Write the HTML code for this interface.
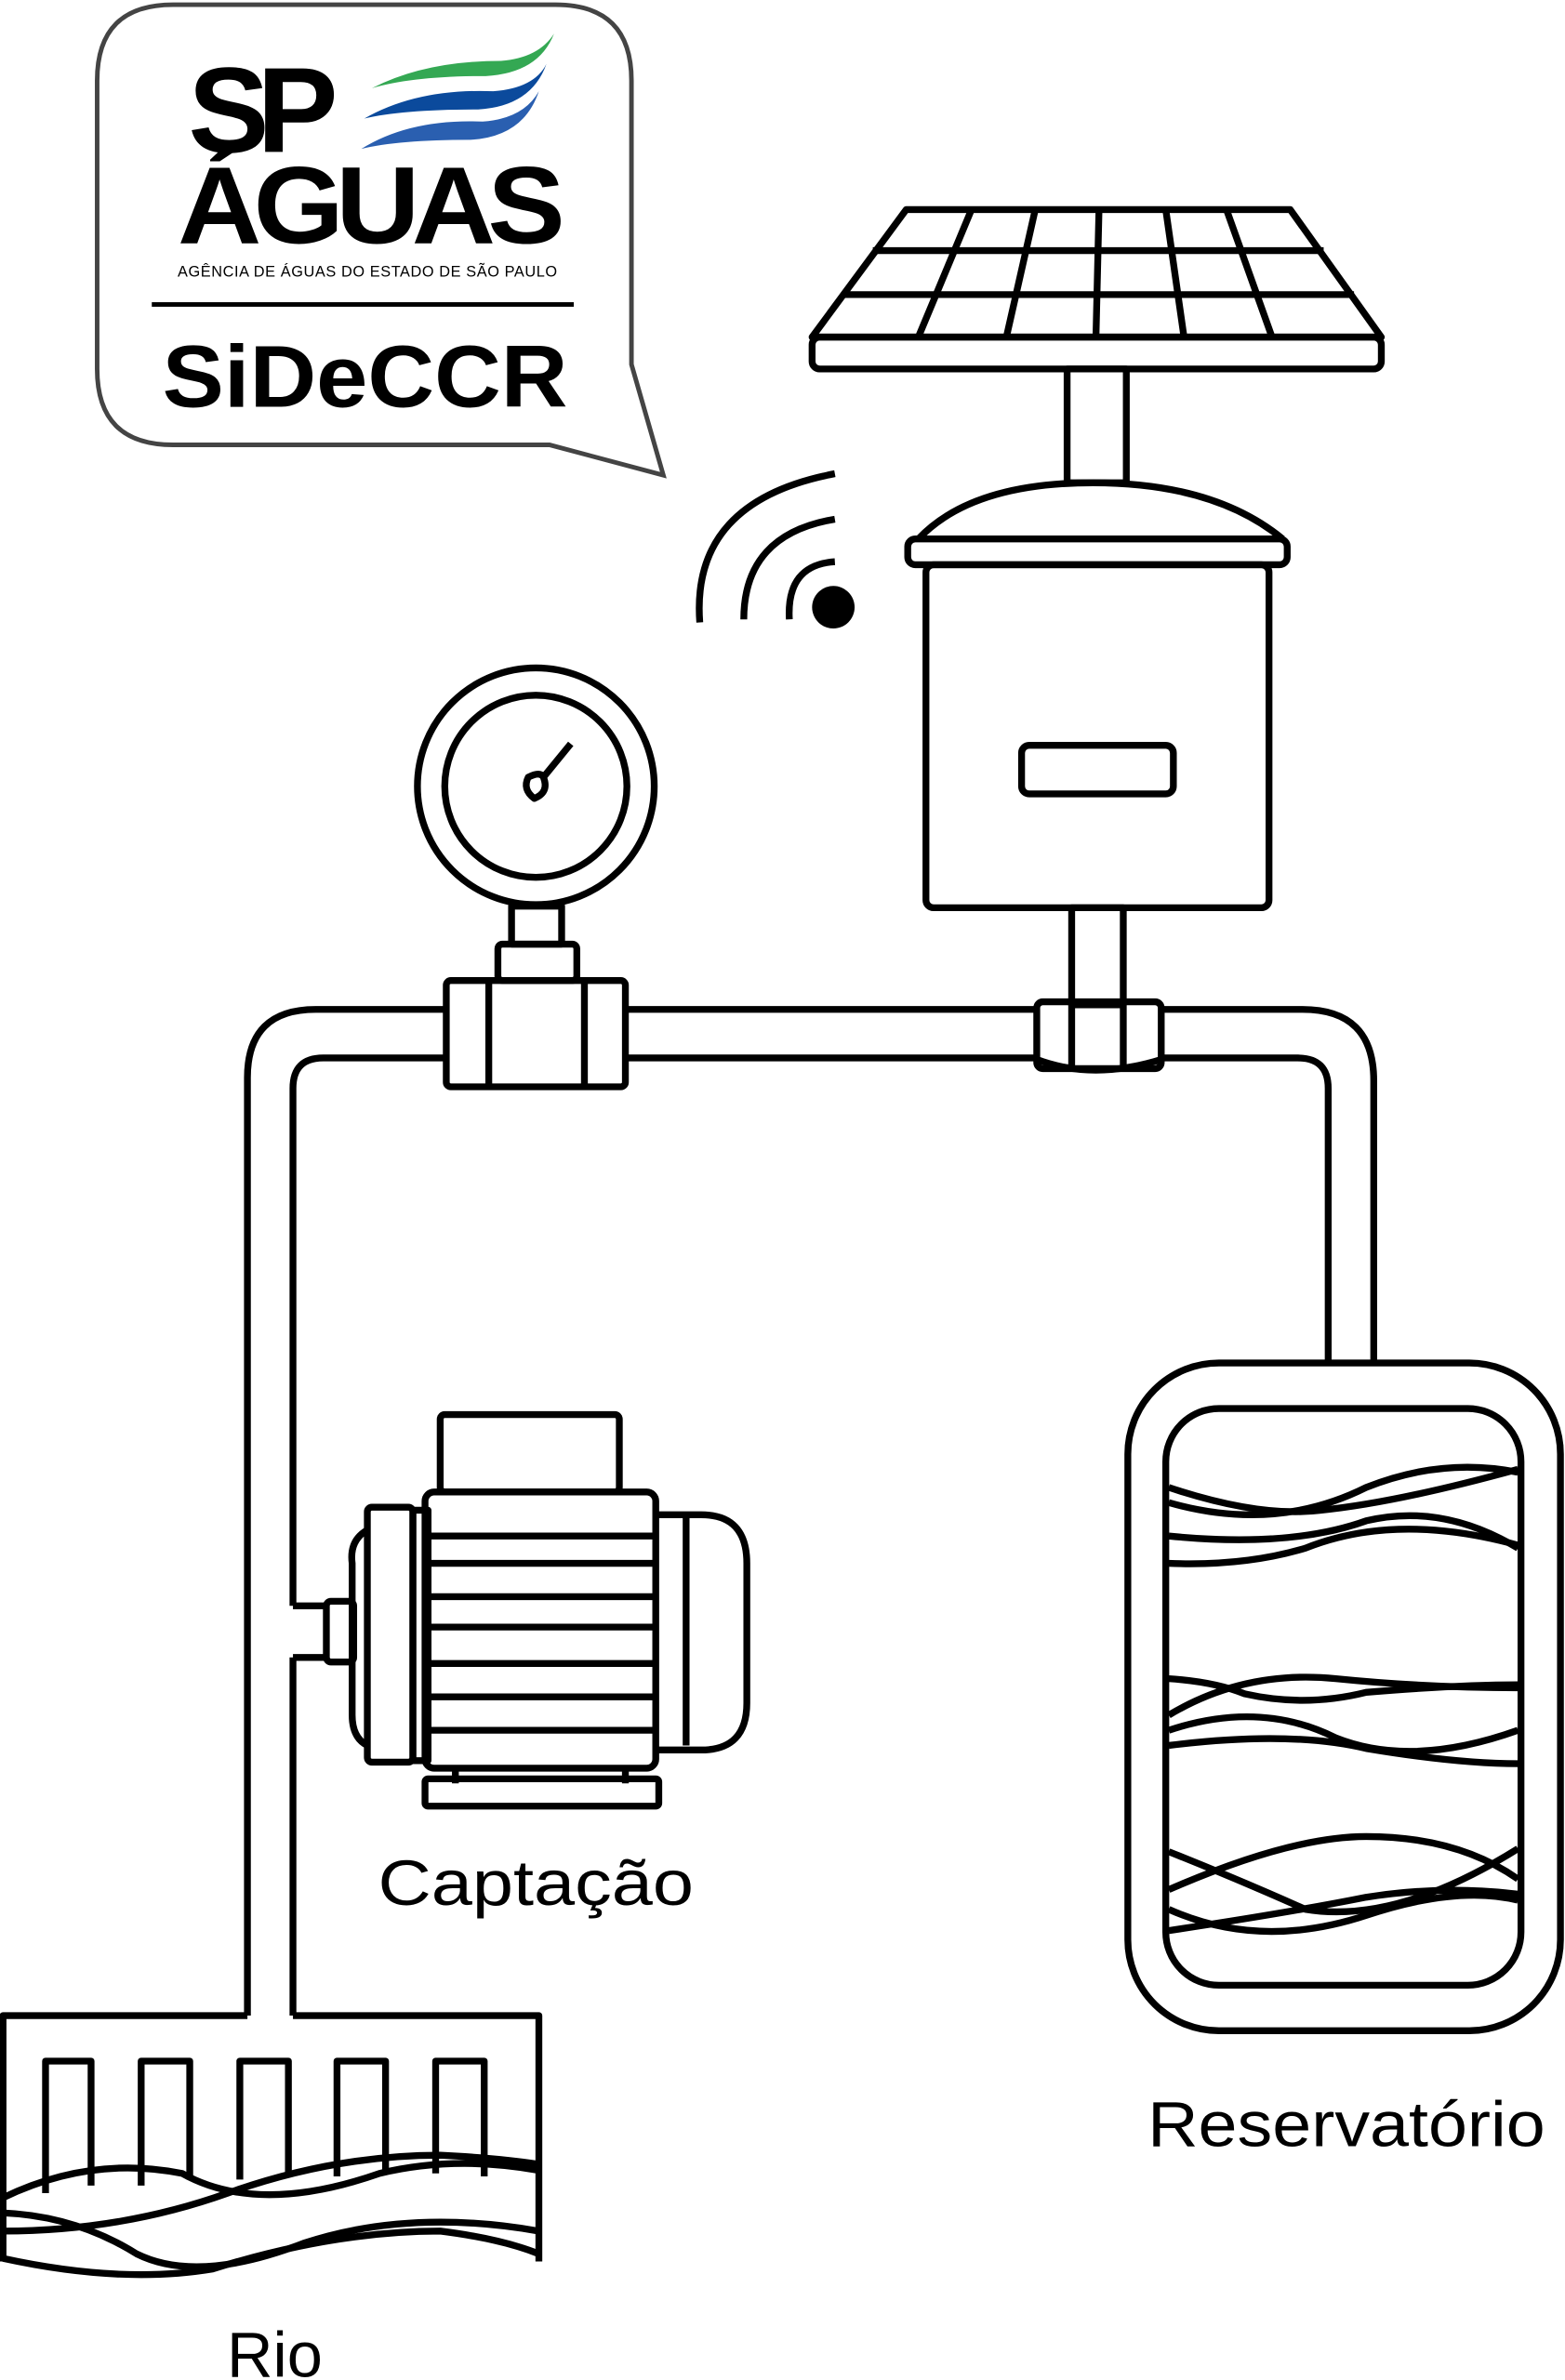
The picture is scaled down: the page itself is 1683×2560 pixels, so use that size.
<!DOCTYPE html>
<html><head><meta charset="utf-8"><style>
html,body{margin:0;padding:0;background:#fff}
svg{display:block}
text{font-family:"Liberation Sans",sans-serif}
</style></head><body>
<svg width="1683" height="2560" viewBox="0 0 1031 1568" xmlns="http://www.w3.org/2000/svg">
<rect width="1031" height="1568" fill="#fff"/>
<path d="M114 3 H366 Q416 3 416 53 V240 L437 313 L362 293 H114 Q64 293 64 243 V53 Q64 3 114 3 Z" fill="none" stroke="#444" stroke-width="3"/>
<text x="124" y="100" font-size="80" font-weight="bold" letter-spacing="-8" fill="#000">SP</text>
<path d="M245 58 Q280 40 330 40 Q355 38 365 22 Q355 48 320 50 Q272 50 245 58Z" fill="#34a853"/>
<path d="M240 78 Q275 58 325 60 Q352 58 360 42 Q350 70 315 72 Q265 72 240 78Z" fill="#0b4a9c"/>
<path d="M238 98 Q270 78 318 80 Q345 78 355 60 Q345 90 310 92 Q262 92 238 98Z" fill="#2a5fb0"/>
<text x="117" y="160" font-size="72" font-weight="bold" letter-spacing="-5" fill="#000" textLength="250" lengthAdjust="spacingAndGlyphs">ÁGUAS</text>
<text x="117" y="182" font-size="10" fill="#000" textLength="250">AGÊNCIA DE ÁGUAS DO ESTADO DE SÃO PAULO</text>
<rect x="100" y="199" width="278" height="3" fill="#000"/>
<text x="107" y="268" font-size="58" font-weight="bold" fill="#000" textLength="267" lengthAdjust="spacingAndGlyphs">SiDeCCR</text>

<g fill="none" stroke="#000" stroke-width="4.5" stroke-linejoin="round">
<path d="M597 138 H850 L910 222 H535 Z"/>
<path d="M575 165 H872 M555 194 H892"/>
<path d="M640 138 L605 222 M682 138 L663 222 M724 138 L722 222 M768 138 L780 222 M808 138 L838 222"/>
<rect x="535" y="222" width="375" height="21" rx="5"/>
<rect x="703" y="243" width="39" height="75"/>
<path d="M605 355 Q640 318 720 318 Q800 318 845 355"/>
<rect x="598" y="355" width="250" height="17" rx="5"/>
<rect x="610" y="372" width="226" height="226" rx="5"/>
<rect x="673" y="491" width="100" height="32" rx="5"/>
<rect x="706" y="598" width="34" height="64"/>
<path d="M461 410 Q455 330 550 312"/>
<path d="M490 408 Q490 352 550 342"/>
<path d="M520 408 Q518 372 550 370"/>
<circle cx="353" cy="518" r="78"/>
<circle cx="353" cy="518" r="60"/>
<path d="M376 490 L358 512 Q362 522 352 526 Q344 520 348 512 Q356 508 358 512"/>
<rect x="337" y="597" width="33" height="25"/>
<rect x="328" y="622" width="52" height="24" rx="3"/>
<rect x="294" y="646" width="118" height="70" rx="3"/>
<path d="M322 646 V716 M385 646 V716"/>
<path d="M294 665 H208 Q163 665 163 710 V1328"/>
<path d="M294 697 H213 Q193 697 193 717 V1058"/>
<path d="M193 1092 V1328"/>
<path d="M412 665 H683 M412 697 H683"/>
<path d="M765 665 H858 Q905 665 905 712 V898"/>
<path d="M765 697 H855 Q875 697 875 717 V898"/>
<rect x="683" y="660" width="82" height="44" rx="4"/>
<path d="M706 660 V704 M740 660 V704 M683 698 Q720 712 765 698"/>
<path d="M193 1058 H215 M193 1092 H215"/>
<rect x="215" y="1055" width="18" height="40" rx="3"/>
<path d="M242 1008 Q230 1015 232 1030 V1130 Q232 1145 242 1150"/>
<rect x="242" y="993" width="30" height="168" rx="3"/>
<rect x="272" y="995" width="10" height="165"/>
<rect x="290" y="932" width="118" height="51" rx="3"/>
<rect x="280" y="983" width="152" height="182" rx="6"/>
<path d="M284 1012 H432 M284 1030 H432 M284 1052 H432 M284 1072 H432 M284 1096 H432 M284 1118 H432 M284 1140 H432"/>
<path d="M432 998 H462 Q492 998 492 1030 V1122 Q492 1153 462 1153 H432"/>
<path d="M452 1000 V1150"/>
<path d="M300 1165 V1175 M412 1165 V1175"/>
<rect x="280" y="1172" width="154" height="18" rx="2"/>
<path d="M163 1328 H2 V1490 M193 1328 H355 V1490"/>
<path d="M30 1445 V1358 H60 V1440 M93 1440 V1358 H125 V1436 M158 1436 V1358 H190 V1434 M222 1434 V1358 H254 V1432 M287 1432 V1358 H319 V1434"/>
<path d="M2 1448 Q60 1420 120 1432 Q170 1460 250 1432 Q300 1420 355 1430"/>
<path d="M2 1470 Q80 1470 150 1445 Q220 1420 290 1420 Q330 1422 355 1426"/>
<path d="M2 1458 Q50 1460 90 1485 Q130 1505 200 1478 Q270 1455 355 1470"/>
<path d="M2 1488 Q80 1505 140 1495 Q220 1470 290 1470 Q330 1475 355 1485"/>
<rect x="743" y="898" width="285" height="440" rx="60"/>
<rect x="768" y="928" width="234" height="380" rx="35"/>
<path d="M770 980 Q830 1000 870 995 Q920 990 1000 968"/>
<path d="M770 990 Q840 1010 900 980 Q950 960 1000 970"/>
<path d="M770 1012 Q850 1020 900 1002 Q950 990 1000 1020"/>
<path d="M770 1030 Q820 1032 860 1020 Q920 996 1000 1018"/>
<path d="M770 1106 Q800 1108 820 1116 Q860 1125 900 1115 Q960 1110 1000 1110"/>
<path d="M770 1130 Q820 1100 880 1106 Q940 1112 1000 1112"/>
<path d="M770 1140 Q830 1120 880 1145 Q930 1165 1000 1140"/>
<path d="M770 1150 Q850 1140 900 1152 Q960 1162 1000 1162"/>
<path d="M770 1220 Q820 1240 860 1258 Q920 1268 1000 1218"/>
<path d="M770 1245 Q850 1210 900 1210 Q960 1210 1000 1238"/>
<path d="M770 1258 Q830 1285 900 1262 Q960 1242 1000 1252"/>
<path d="M770 1272 Q850 1260 900 1250 Q950 1242 1000 1248"/>
</g>
<circle cx="549" cy="400" r="14" fill="#000"/>
<text x="353" y="1255" font-size="42" text-anchor="middle" fill="#000" textLength="208" lengthAdjust="spacingAndGlyphs">Captação</text>
<text x="887" y="1414" font-size="42" text-anchor="middle" fill="#000" textLength="262" lengthAdjust="spacingAndGlyphs">Reservatório</text>
<text x="181" y="1566" font-size="42" text-anchor="middle" fill="#000">Rio</text>
</svg>
</body></html>
